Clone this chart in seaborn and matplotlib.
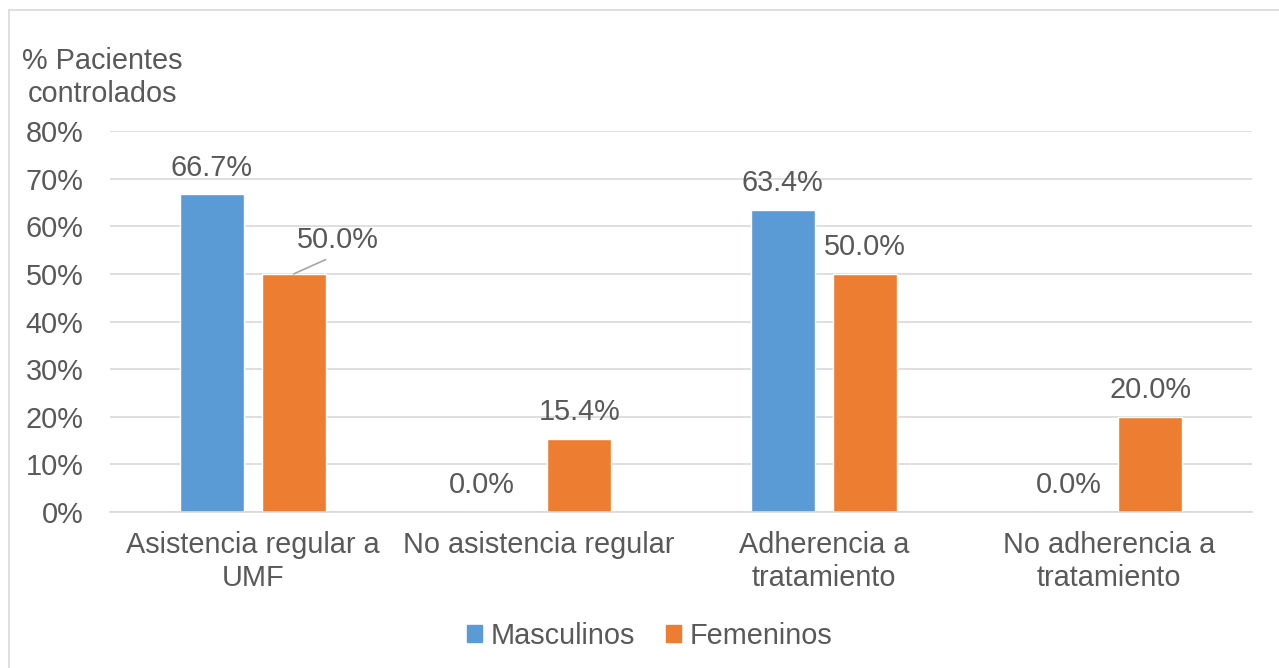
import pandas as pd
import matplotlib.pyplot as plt
import seaborn as sns
from matplotlib.patches import Rectangle
from matplotlib.lines import Line2D

# ---------------------------- DATA ----------------------------
categorias = ['Asistencia regular a\nUMF', 'No asistencia regular',
              'Adherencia a\ntratamiento', 'No adherencia a\ntratamiento']
masculinos = [66.7, 0.0, 63.4, 0.0]
femeninos = [50.0, 15.4, 50.0, 20.0]
series = ['Masculinos', 'Femeninos']
colores = ['#5B9BD5', '#ED7D31']
y_ticks = [0, 10, 20, 30, 40, 50, 60, 70, 80]

df = pd.DataFrame({
    'categoria': categorias * 2,
    'valor': masculinos + femeninos,
    'serie': [series[0]] * 4 + [series[1]] * 4,
})

# ---------------------------- PLOT ----------------------------
sns.set_style('white')
plt.rcParams['font.family'] = ['Liberation Sans', 'DejaVu Sans']
gris = '#595959'
fs = 20.8

fig = plt.figure(figsize=(12.79, 6.68), dpi=100)
ax = fig.add_axes([0.086, 0.2335, 0.893, 0.5704])

sns.barplot(data=df, x='categoria', y='valor', hue='serie', palette=colores,
            width=0.574, gap=0.22, ax=ax, legend=True, saturation=1)

ax.set_ylim(0, 80)
ax.set_xlim(-0.5, 3.5)
ax.set_yticks(y_ticks)
ax.set_yticklabels([f'{t}%' for t in y_ticks])
ax.yaxis.grid(True, color='#d9d9d9', linewidth=1.2)
ax.set_axisbelow(True)
for s in ['top', 'right', 'left']:
    ax.spines[s].set_visible(False)
ax.spines['bottom'].set_color('#d9d9d9')
ax.spines['bottom'].set_linewidth(1.2)
ax.tick_params(axis='both', length=0, labelsize=fs, colors=gris)
ax.tick_params(axis='y', pad=19)
ax.tick_params(axis='x', pad=14)
for t in ax.get_xticklabels():
    t.set_linespacing(1.2)
ax.set_xlabel('')
ax.set_ylabel('')

# Data labels
for c, cont in enumerate(ax.containers):
    for i, bar in enumerate(cont):
        v = bar.get_height()
        x = bar.get_x() + bar.get_width() / 2
        if c == 1 and i == 0:
            # label moved out with a leader line
            ax.annotate(f'{v:.1f}%', xy=(x, v), xytext=(x + 0.155, v + 7.1),
                        ha='center', va='center', fontsize=fs, color=gris,
                        arrowprops=dict(arrowstyle='-', color='#a6a6a6', lw=1.2,
                                        relpos=(0.5, 0), shrinkA=4, shrinkB=0))
        else:
            dx = -0.056 if (c == 0 and i == 1) else 0
            ax.text(x + dx, v + 5.6, f'{v:.1f}%', ha='center', va='center',
                    fontsize=fs, color=gris)

# Axis title over the y axis
fig.text(0.08, 0.884, '% Pacientes\ncontrolados', ha='center', va='center',
         multialignment='center', fontsize=fs, color=gris, linespacing=1.2)

# Legend at the bottom
ax.legend_.remove()
handles = [Rectangle((0, 0), 1, 1, color=col) for col in colores]
fig.legend(handles, series, loc='center', bbox_to_anchor=(0.508, 0.048), ncol=2,
           frameon=False, fontsize=fs, labelcolor=gris, handlelength=0.52,
           handleheight=0.52, handletextpad=0.3, columnspacing=1.1)

# Chart area border (top and left edges visible)
fig.add_artist(Line2D([9 / 1279, 1], [1 - 10 / 668, 1 - 10 / 668],
                      color='#d9d9d9', lw=1.2, transform=fig.transFigure))
fig.add_artist(Line2D([9 / 1279, 9 / 1279], [0, 1 - 10 / 668],
                      color='#d9d9d9', lw=1.2, transform=fig.transFigure))

fig.savefig('out.png', dpi=100)
